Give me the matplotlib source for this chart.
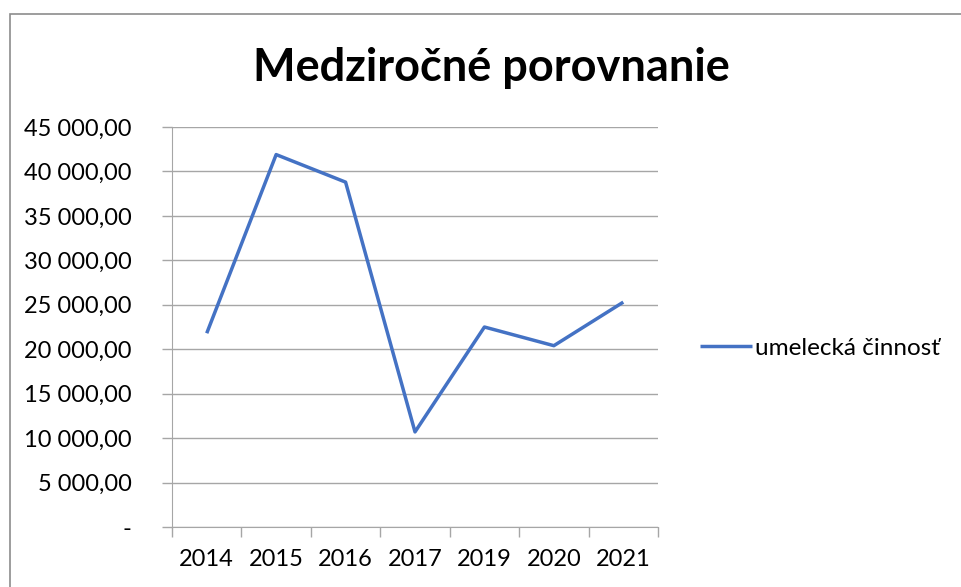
import matplotlib
matplotlib.use("Agg")
import matplotlib.pyplot as plt
from matplotlib.ticker import FuncFormatter, MultipleLocator
from matplotlib.patches import Rectangle

# data
years = ["2014", "2015", "2016", "2017", "2019", "2020", "2021"]
values = [21800, 41900, 38800, 10700, 22500, 20400, 25300]
series_name = "umelecká činnosť"
title = "Medziročné porovnanie"

plt.rcParams["font.family"] = ["Lato", "DejaVu Sans"]

fig = plt.figure(figsize=(9.61, 5.87), dpi=100)
ax = fig.add_axes([0.179, 0.1022, 0.5057, 0.6814])

x = list(range(len(years)))
ax.plot(x, values, color="#4472C4", lw=2.5, label=series_name, solid_capstyle="butt")

ax.set_xlim(-0.5, len(years) - 0.5)
ax.set_ylim(0, 45000)
ax.yaxis.set_major_locator(MultipleLocator(5000))


def fmt(v, pos):
    if v == 0:
        return "-"
    return "{:,.2f}".format(v).replace(",", " ").replace(".", ",")


ax.yaxis.set_major_formatter(FuncFormatter(fmt))
ax.grid(axis="y", color="#a6a6a6", lw=1)
ax.set_axisbelow(True)

# category ticks sit between the labels, like excel
ax.set_xticks(x)
ax.set_xticklabels(years)
ax.tick_params(axis="x", which="major", length=0, labelsize=17, pad=16)
ax.set_xticks([i - 0.5 for i in range(len(years) + 1)], minor=True)
ax.tick_params(axis="x", which="minor", length=7, color="#a6a6a6", width=1)
ax.tick_params(axis="y", length=7, color="#a6a6a6", width=1, labelsize=17, pad=22)
for lab in ax.get_yticklabels():
    lab.set_horizontalalignment("right")

for s in ["top", "right"]:
    ax.spines[s].set_visible(False)
ax.spines["left"].set_color("#a6a6a6")
ax.spines["bottom"].set_color("#a6a6a6")

fig.text(0.511, 0.884, title, ha="center", va="center", fontsize=32.5, fontweight="bold")

ax.legend(loc="center left", bbox_to_anchor=(0.7284, 0.407), bbox_transform=fig.transFigure,
          frameon=False, fontsize=17.5, handlelength=2.15, handletextpad=0.12,
          borderpad=0, borderaxespad=0)

# outer chart border
fig.patches.append(Rectangle((10 / 961, -0.1), 1.2, 1 - 14 / 587 + 0.1,
                             transform=fig.transFigure, fill=False,
                             edgecolor="#8c8c8c", lw=1.2))

fig.savefig("out.png", dpi=100)
